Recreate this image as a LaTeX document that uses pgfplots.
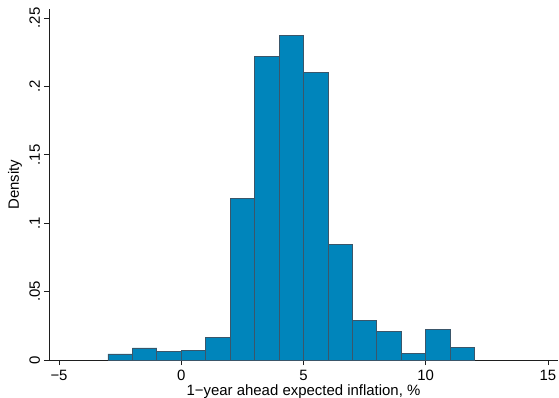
\documentclass[border=0pt]{standalone}
\usepackage{fontspec}
\setmainfont{Liberation Sans}
\usepackage{pgfplots}
\pgfplotsset{compat=1.18}
\definecolor{barfill}{RGB}{0,133,187}
\definecolor{baredge}{RGB}{58,86,106}
\definecolor{axcol}{RGB}{30,30,30}
\begin{document}
\begin{tikzpicture}
\begin{axis}[
  scale only axis,
  width=509bp, height=351bp,
  xmin=-5.41, xmax=15.41,
  ymin=0, ymax=0.2566,
  axis x line=bottom, axis y line=left,
  axis line style={axcol, line width=0.9bp, -},
  every tick/.style={axcol, line width=0.9bp},
  tick align=outside,
  major tick length=5bp,
  xtick={-5,0,5,10,15},
  xticklabels={−5,0,5,10,15},
  ytick={0,0.05,0.1,0.15,0.2,0.25},
  yticklabels={0,.05,.1,.15,.2,.25},
  ticklabel style={font=\fontsize{15}{17}\selectfont},
  yticklabel style={rotate=90, anchor=base, inner sep=0bp, yshift=4bp},
  xticklabel style={anchor=base, inner sep=0bp, yshift=-15bp},
  xlabel={1−year ahead expected inflation, \%},
  ylabel={Density},
  label style={font=\fontsize{15}{17}\selectfont},
  xlabel style={at={(axis description cs:0.5,0)}, anchor=base, yshift=-35bp, inner sep=0bp},
  ylabel style={at={(axis description cs:0,0.5)}, anchor=center, inner sep=0bp, yshift=34bp},
  clip=false,
]
\addplot[ybar interval, fill=barfill, draw=baredge, line width=0.7bp] coordinates {
(-3,0.0044) (-2,0.0088) (-1,0.0061) (0,0.0068) (1,0.0163)
(2,0.118) (3,0.222) (4,0.2375) (5,0.210) (6,0.0848)
(7,0.029) (8,0.0207) (9,0.0046) (10,0.0224) (11,0.009) (12,0.009)
};
\end{axis}
\pgfresetboundingbox
\path (-49bp,-38bp) rectangle (510bp,360bp);
\end{tikzpicture}
\end{document}
